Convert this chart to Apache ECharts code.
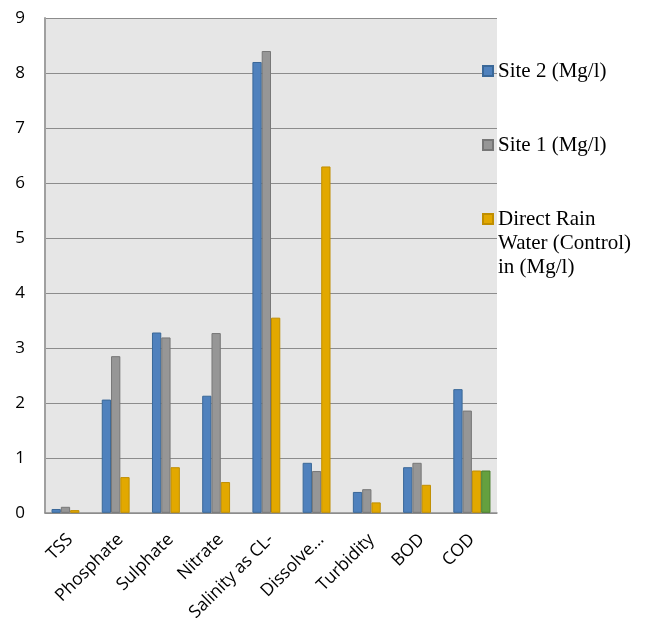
<!DOCTYPE html>
<html>
<head>
<meta charset="utf-8">
<script src="https://cdn.jsdelivr.net/npm/echarts@6/dist/echarts.min.js"></script>
<style>
  html, body { margin: 0; padding: 0; background: #ffffff; }
  #chart { width: 647px; height: 624px; }
</style>
</head>
<body>
<div id="chart"></div>
<script>
// Water quality parameters
const categories = ['TSS', 'Phosphate', 'Sulphate', 'Nitrate', 'Salinity as CL-', 'Dissolve…', 'Turbidity', 'BOD', 'COD'];

// Measured concentrations (Mg/l)
const site2 = [0.07, 2.06, 3.28, 2.13, 8.20, 0.91, 0.38, 0.83, 2.25];
const site1 = [0.11, 2.85, 3.19, 3.27, 8.40, 0.76, 0.43, 0.91, 1.86];
const rainControl = [0.05, 0.65, 0.83, 0.56, 3.55, 6.30, 0.19, 0.51, 0.77];
const series4 = [null, null, null, null, null, null, null, null, 0.77];

const yTicks = [0, 1, 2, 3, 4, 5, 6, 7, 8, 9];

const seriesNames = ['Site 2 (Mg/l)', 'Site 1 (Mg/l)', 'Direct Rain Water (Control) in (Mg/l)', 'Series4'];

const chart = echarts.init(document.getElementById('chart'));

const legendText = {
  fontFamily: '"Liberation Serif", "Times New Roman", serif',
  fontSize: 21,
  color: '#000',
  lineHeight: 24
};

function barSeries(name, data, fill, border) {
  return {
    name: name,
    type: 'bar',
    data: data,
    barGap: '0%',
    barCategoryGap: '26%',
    itemStyle: { color: fill, borderColor: border, borderWidth: 1 },
    emphasis: { disabled: true }
  };
}

function legendBlock(name, top, formatter) {
  const block = {
    data: [name],
    orient: 'vertical', left: 482, top: top, padding: 0,
    itemWidth: 10, itemHeight: 10, icon: 'rect',
    textStyle: legendText
  };
  if (formatter) block.formatter = formatter;
  return block;
}

chart.setOption({
  animation: false,
  backgroundColor: '#ffffff',
  grid: {
    left: 45, right: 150, top: 18, bottom: 110,
    show: true,
    backgroundColor: '#e6e6e6',
    borderWidth: 0
  },
  legend: [
    legendBlock(seriesNames[0], 59),
    legendBlock(seriesNames[1], 133),
    // two leading blank lines keep the marker level with the first text line
    legendBlock(seriesNames[2], 159, function () {
      return '\n\nDirect Rain\nWater (Control)\nin (Mg/l)';
    })
  ],
  xAxis: {
    type: 'category',
    data: categories,
    axisLine: { show: true, lineStyle: { color: '#8c8c8c', width: 1.5 } },
    axisTick: { show: false },
    axisLabel: {
      interval: 0,
      rotate: 45,
      margin: 24,
      fontFamily: '"Open Sans", sans-serif',
      fontSize: 17.5,
      color: '#000'
    },
    splitLine: { show: false }
  },
  yAxis: {
    type: 'value',
    min: yTicks[0],
    max: yTicks[yTicks.length - 1],
    interval: 1,
    axisLine: { show: true, lineStyle: { color: '#a0a0a0', width: 2 } },
    axisTick: { show: false },
    axisLabel: {
      margin: 20,
      fontFamily: '"Open Sans", sans-serif',
      fontSize: 17,
      color: '#000'
    },
    splitLine: { show: true, lineStyle: { color: '#8c8c8c', width: 1 } }
  },
  series: [
    barSeries(seriesNames[0], site2, '#4f81bd', '#3a6898'),
    barSeries(seriesNames[1], site1, '#969696', '#777777'),
    barSeries(seriesNames[2], rainControl, '#e2a800', '#c08e00'),
    barSeries(seriesNames[3], series4, '#64a03f', '#4c7f2f')
  ]
});
</script>
</body>
</html>
